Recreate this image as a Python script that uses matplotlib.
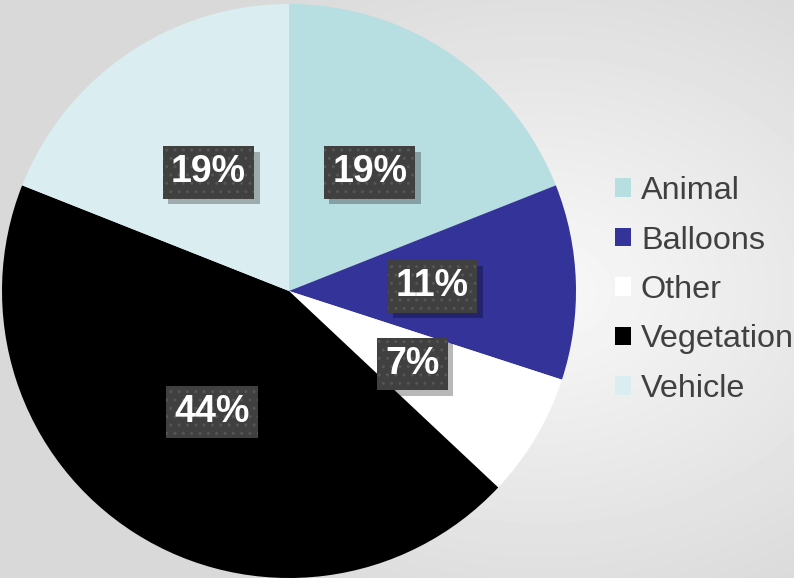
import numpy as np
import matplotlib
matplotlib.use("Agg")
import matplotlib.pyplot as plt
import matplotlib.colors as mcolors
import matplotlib.patheffects as pe
from matplotlib.patches import Patch

categories = ["Animal", "Balloons", "Other", "Vegetation", "Vehicle"]
shares = [19, 11, 7, 44, 19]
colors = ["#B7DEE1", "#333399", "#FFFFFF", "#000000", "#DAEDF0"]

plt.rcParams['font.family'] = ['Liberation Sans', 'DejaVu Sans']


class BoxShadow(pe.AbstractPathEffect):
    # plain drop shadow, without the hatch of the box it sits under
    def __init__(self, offset=(4, -4), color="black", alpha=0.3):
        super().__init__(offset)
        self.rgba = mcolors.to_rgba(color, alpha)

    def draw_path(self, renderer, gc, tpath, affine, rgbFace):
        gc0 = renderer.new_gc()
        gc0.copy_properties(gc)
        gc0.set_hatch(None)
        gc0.set_linewidth(0)
        gc0.set_alpha(self.rgba[3])
        renderer.draw_path(gc0, tpath, affine + self._offset_transform(renderer),
                           self.rgba)
        gc0.restore()


W, H = 794, 578
fig = plt.figure(figsize=(W / 100, H / 100), dpi=100)

# soft radial background
bg = fig.add_axes([0, 0, 1, 1])
yy, xx = np.mgrid[0:H, 0:W]
d = np.hypot((xx - 540) / W, (yy - 290) / H)
g = np.clip(0.975 - 0.2 * d, 0.85, 0.975)
bg.imshow(g, cmap="gray", vmin=0, vmax=1, aspect="auto", extent=[0, 1, 0, 1])
bg.set_axis_off()

ax = fig.add_axes([2 / W, 0, 574 / W, 574 / H])
wedges, texts, autotexts = ax.pie(
    shares, colors=colors, startangle=90, counterclock=False,
    autopct=lambda p: f"{p:.0f}%", pctdistance=0.5,
    wedgeprops=dict(linewidth=0),
    textprops=dict(color="white", fontsize=27, fontweight="bold"))

for t in autotexts:
    t.set_bbox(dict(boxstyle="square,pad=0.22", facecolor="#404040",
                    edgecolor="#555555", linewidth=0, hatch=".."))
    t.get_bbox_patch().set_path_effects([BoxShadow((4, -4), "black", 0.28), pe.Normal()])

ax.set_xlim(-1, 1)
ax.set_ylim(-1, 1)
ax.set_aspect("equal")
ax.set_axis_off()

handles = [Patch(facecolor=c, edgecolor="none") for c in colors]
fig.legend(handles, categories, loc="center left",
           bbox_to_anchor=(615 / W, 1 - 290 / H), frameon=False,
           fontsize=23.3, labelcolor="#404040", handlelength=0.5,
           handleheight=0.5, handletextpad=0.3, labelspacing=0.6,
           borderpad=0, borderaxespad=0)

fig.savefig("out.png", dpi=100)
